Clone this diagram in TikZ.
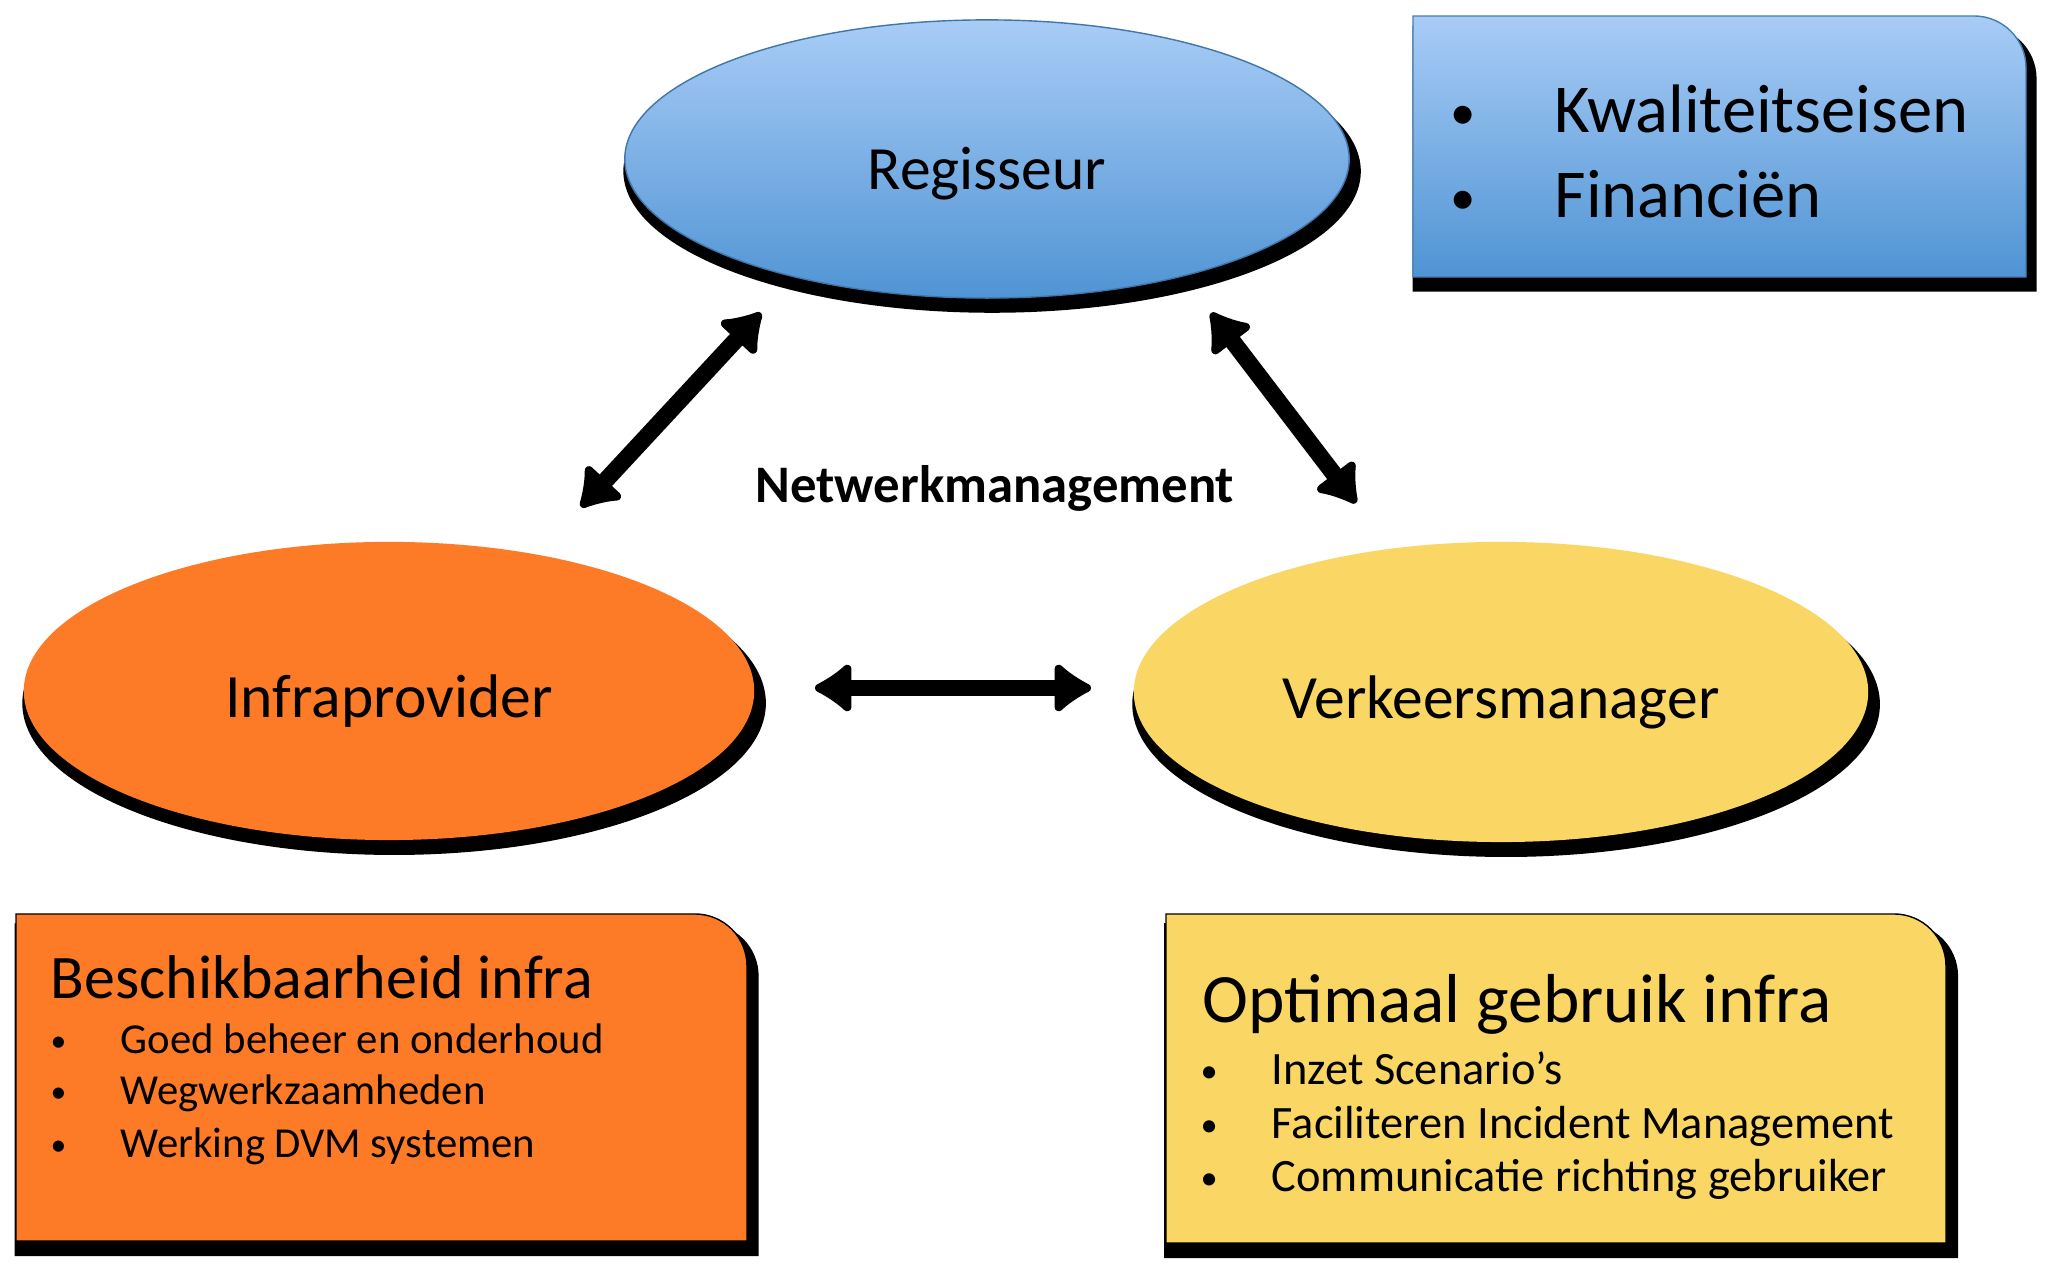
\documentclass[tikz,border=0pt]{standalone}
\usepackage{fontspec}
\setmainfont{Carlito}
\usetikzlibrary{shapes.geometric,shadows,arrows.meta}
\definecolor{skytop}{HTML}{A8CCF6}
\definecolor{skybot}{HTML}{5094D4}
\definecolor{infraorange}{HTML}{FD7A27}
\definecolor{verkyellow}{HTML}{FAD764}
\newcommand\dotmark{\raisebox{0.05em}{\scalebox{0.74}{\textbullet}}}
\begin{document}
\begin{tikzpicture}[x=0.01cm, y=0.01cm,
  every node/.style={inner sep=0pt, text=black},
  blackshadow/.style={drop shadow={shadow xshift=0.05cm, shadow yshift=-0.12cm,
      shadow scale=1.018, fill=black, opacity=1}},
  actor/.style={ellipse, blackshadow},
  actortext/.style={font=\fontsize{17.5pt}{21pt}\selectfont},
  link/.style={line width=4.8pt,
      {Latex[round,length=0.42cm,width=0.6cm]}-{Latex[round,length=0.42cm,width=0.6cm]}},
  bigitem/.style={anchor=base west, font=\fontsize{19.5pt}{23pt}\selectfont},
  boxtitle/.style={anchor=base west, font=\fontsize{17.6pt}{21pt}\selectfont},
  item/.style={anchor=base west, font=\fontsize{12.15pt}{15pt}\selectfont}]
  \fill [white] (0,0) rectangle (2048,1268);
  \useasboundingbox (0,0) rectangle (2048,1268);
  % the three parties
  \node [actor, top color=skytop, bottom color=skybot, draw=skybot!80!black, thin,
    minimum width=7.24cm, minimum height=2.78cm] (reg) at (987,1109) {};
  \node [actor, fill=infraorange, minimum width=7.3cm, minimum height=2.98cm]
    (infra) at (389,577) {};
  \node [actor, fill=verkyellow, minimum width=7.34cm, minimum height=3.0cm]
    (verk) at (1501,576) {};
  \node [actortext] (regtxt) at ([yshift=-0.15cm]reg.center) {Regisseur};
  \node [actortext] (infratxt) at ([yshift=-0.1cm]infra.center) {Infraprovider};
  \node [actortext] (verktxt) at ([yshift=-0.1cm]verk.center) {Verkeersmanager};
  \node [font=\bfseries\fontsize{15pt}{18pt}\selectfont] (net) at (995,780) {Netwerkmanagement};
  % relations
  \draw [link] ([shift={(-226,-154)}]reg.center) -- ([shift={(192,184)}]infra.center);
  \draw [link] ([shift={(224,-154)}]reg.center) -- ([shift={(-145,189)}]verk.center);
  \draw [link] ([shift={(426,3)}]infra.center) -- ([shift={(-410,4)}]verk.center);
  % tasks of the regisseur
  \draw [blackshadow, top color=skytop, bottom color=skybot, draw=skybot!85!black, thin]
    (1413,991) -- (1413,1252) -- (1974,1252) arc[start angle=90, end angle=0, radius=52]
    -- (2026,991) -- cycle;
  \node [bigitem] (kwal) at (1450,1135) {\makebox[1.04cm][l]{\dotmark}Kwaliteitseisen};
  \node [bigitem] (fin) at (1450,1050) {\makebox[1.04cm][l]{\dotmark}Financiën};
  % tasks of the infraprovider
  \draw [blackshadow, fill=infraorange]
    (16,27) -- (16,354) -- (695,354) arc[start angle=90, end angle=0, radius=52]
    -- (747,27) -- cycle;
  \node [boxtitle] (besch) at (50,269) {Beschikbaarheid infra};
  \node [item] (goed) at (50,214) {\makebox[0.70cm][l]{\dotmark}Goed beheer en onderhoud};
  \node [item] (weg) at (50,163) {\makebox[0.70cm][l]{\dotmark}Wegwerkzaamheden};
  \node [item] (werk) at (50,110) {\makebox[0.70cm][l]{\dotmark}Werking DVM systemen};
  % tasks of the verkeersmanager
  \draw [blackshadow, fill=verkyellow]
    (1166,25) -- (1166,354) -- (1894,354) arc[start angle=90, end angle=0, radius=52]
    -- (1946,25) -- cycle;
  \node [boxtitle, font=\fontsize{19.7pt}{23pt}\selectfont] (opt) at (1202,245) {Optimaal gebruik infra};
  \node [item, font=\fontsize{13.2pt}{16pt}\selectfont] (inzet) at (1200,183)
    {\makebox[0.71cm][l]{\dotmark}Inzet Scenario’s};
  \node [item, font=\fontsize{13.2pt}{16pt}\selectfont] (fac) at (1200,129)
    {\makebox[0.71cm][l]{\dotmark}Faciliteren Incident Management};
  \node [item, font=\fontsize{13.2pt}{16pt}\selectfont] (comm) at (1200,76)
    {\makebox[0.71cm][l]{\dotmark}Communicatie richting gebruiker};
\end{tikzpicture}
\end{document}
